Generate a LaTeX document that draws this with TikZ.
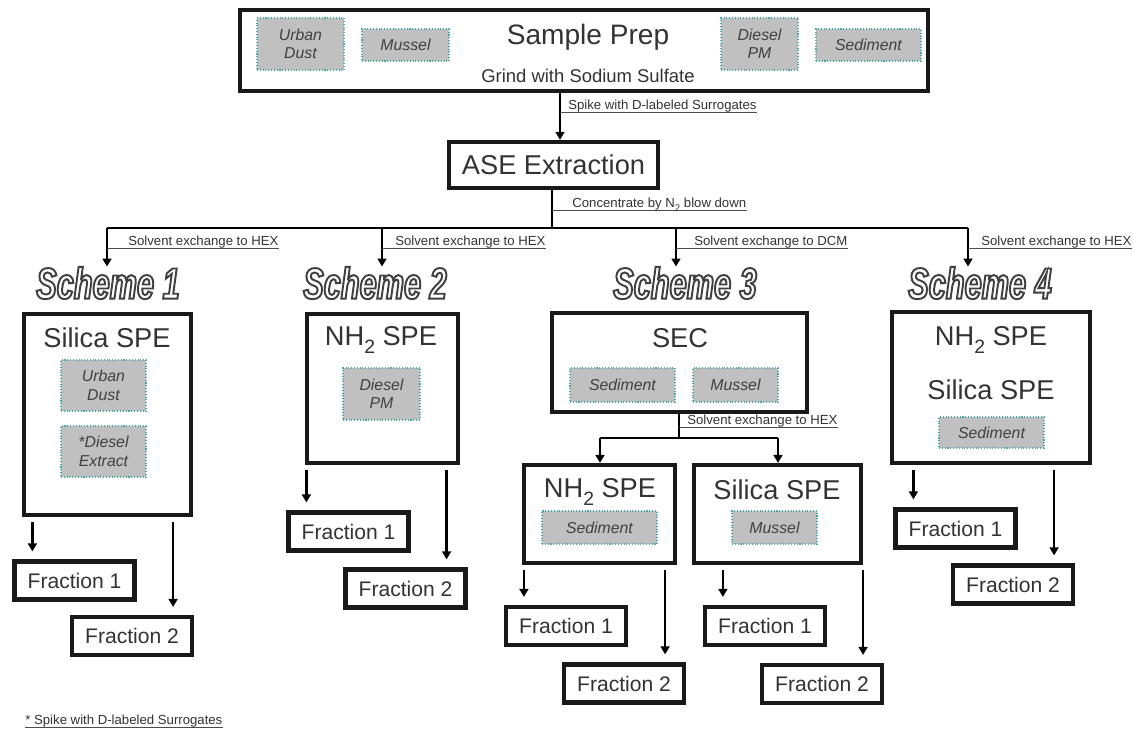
\documentclass[tikz,border=0pt]{standalone}
\usepackage{fontspec}
\setmainfont{Liberation Sans}
\newfontfamily\schemefont[FakeStretch=0.7]{Liberation Sans}
\usetikzlibrary{arrows.meta}

\definecolor{txt}{HTML}{333333}
\definecolor{sampfill}{HTML}{C0C0C0}
\definecolor{sampline}{HTML}{4AA8A8}

\newcommand\nhtwo{NH\raisebox{-0.3em}{\fontsize{11}{11}\selectfont 2}}
\newcommand\schemelabel[1]{{\color{white}\special{pdf:literal direct 0.25 G 1.1 w 2 Tr}#1\special{pdf:literal direct 0 Tr}}}

\tikzset{
	bigbox/.style={draw=black!90, line width=2.4pt, fill=white, inner sep=0},
	fracbox/.style={bigbox, minimum width=2.4cm, minimum height=0.76cm, text=txt, font=\fontsize{12}{14}\selectfont},
	samp/.style={draw=sampline, densely dotted, line width=0.6pt, fill=sampfill, text=black!75, align=center, inner sep=0, font=\fontsize{9}{10.5}\selectfont\itshape},
	head/.style={text=txt, inner sep=0, font=\fontsize{15.5}{18}\selectfont},
	note/.style={text=black!80, inner xsep=0, inner ysep=1pt, text depth=0pt, font=\fontsize{7.5}{8}\selectfont},
	uline/.style={draw=black!70, line width=0.5pt},
	link/.style={line width=1.4pt},
	arr/.style={link, -{Triangle[length=4.5pt, width=5pt]}},
	farr/.style={arr, shorten <=0.1cm, shorten >=0.16cm},
	scheme/.style={inner sep=0, font={\schemefont\fontsize{25}{27}\selectfont\bfseries\itshape}}
}

\begin{document}
\begin{tikzpicture}[x=0.02cm, y=-0.02cm]
	\useasboundingbox (0,0) rectangle (1134,737);

	% sample preparation
	\node[bigbox, minimum width=13.76cm, minimum height=1.62cm] (prep) at (584,50.5) {};
	\node[samp, minimum width=1.74cm, minimum height=1.04cm] (prepurb) at (300.5,44) {Urban\\Dust};
	\node[samp, minimum width=1.74cm, minimum height=0.64cm] (prepmus) at (405.5,45) {Mussel};
	\node[samp, minimum width=1.54cm, minimum height=1.04cm] (prepdsl) at (759.5,44) {Diesel\\PM};
	\node[samp, minimum width=2.1cm, minimum height=0.64cm] (prepsed) at (868.5,45) {Sediment};
	\node[head, font=\fontsize{16}{18}\selectfont] (preptitle) at (588,37) {Sample Prep};
	\node[text=txt, inner sep=0, font=\fontsize{10.5}{12}\selectfont] (grind) at (588,76) {Grind with Sodium Sulfate};

	% extraction
	\node[bigbox, head, minimum width=4.18cm, minimum height=0.92cm] (ase) at (553.5,165) {ASE Extraction};
	\coordinate (spikeat) at (560,112);
	\draw[arr] (prep.south -| spikeat) -- (ase.north -| spikeat);
	\node[note, anchor=south west] (spike) at ([xshift=0.16cm]spikeat) {Spike with D-labeled Surrogates};
	\draw[uline] (spikeat) -- (spike.south east);

	\coordinate (bus) at (552,228);
	\coordinate (concat) at (552,210);
	\draw[link] (ase.south -| bus) -- (bus);
	\node[note, anchor=south west] (conc) at ([xshift=0.4cm]concat) {Concentrate by N\raisebox{-0.25em}{\fontsize{5.5}{6}\selectfont 2} blow down};
	\draw[uline] (concat) -- (conc.south east);

	% schemes
	\node[scheme] (s1) at (108,283) {\schemelabel{Scheme 1}};
	\node[scheme] (s2) at (375,283) {\schemelabel{Scheme 2}};
	\node[scheme] (s3) at (685,283) {\schemelabel{Scheme 3}};
	\node[scheme] (s4) at (980,283) {\schemelabel{Scheme 4}};

	\coordinate (b1) at (107,228);
	\coordinate (b2) at (382,228);
	\coordinate (b3) at (676,228);
	\coordinate (b4) at (968,228);
	\draw[link] (b1) -- (b4);
	\foreach \i/\gap/\solv in {1/0.42/HEX, 2/0.26/HEX, 3/0.36/DCM, 4/0.26/HEX}
	{
		\draw[arr] (b\i) -- (b\i |- s\i.north);
		\coordinate (l\i) at ([yshift=-0.4cm]b\i);
		\node[note, anchor=south west] (n\i) at ([xshift=\gap cm]l\i) {Solvent exchange to \solv};
		\draw[uline] (l\i) -- (n\i.south east);
	}

	% scheme 1
	\node[bigbox, minimum width=3.34cm, minimum height=4.02cm] (spe1) at (107.5,414.5) {};
	\node[head] (spe1t) at (107,338) {Silica SPE};
	\node[samp, minimum width=1.7cm, minimum height=1.02cm] (urb1) at (103.5,385.5) {Urban\\Dust};
	\node[samp, minimum width=1.7cm, minimum height=1.02cm] (dex1) at (103.5,451.5) {*Diesel\\Extract};

	% scheme 2
	\node[bigbox, minimum width=3.02cm, minimum height=2.98cm] (nh2) at (382.5,388.5) {};
	\node[head] (nh2t) at (381,340) {\nhtwo{} SPE};
	\node[samp, minimum width=1.54cm, minimum height=1.04cm] (dsl2) at (381.5,394) {Diesel\\PM};

	% scheme 3
	\node[bigbox, minimum width=5.1cm, minimum height=1.98cm] (sec) at (679.5,362.5) {};
	\node[head] (sect) at (680,338) {SEC};
	\node[samp, minimum width=2.1cm, minimum height=0.68cm] (sed3) at (622.5,385) {Sediment};
	\node[samp, minimum width=1.7cm, minimum height=0.68cm] (mus3) at (735.5,385) {Mussel};

	\node[bigbox, minimum width=3.02cm, minimum height=1.96cm] (nh3) at (599.5,514) {};
	\node[head] (nh3t) at (600,492) {\nhtwo{} SPE};
	\node[samp, minimum width=2.3cm, minimum height=0.66cm] (sed3a) at (599.5,527.5) {Sediment};
	\node[bigbox, minimum width=3.34cm, minimum height=1.96cm] (sil3) at (777.5,514) {};
	\node[head] (sil3t) at (777,490) {Silica SPE};
	\node[samp, minimum width=1.7cm, minimum height=0.66cm] (mus3b) at (774.5,527.5) {Mussel};

	\coordinate (secbus) at (679,438);
	\coordinate (secat) at (679,427);
	\coordinate (c3a) at (600,438);
	\coordinate (c3b) at (778,438);
	\draw[link] (sec.south -| secbus) -- (secbus);
	\draw[link] (c3a) -- (c3b);
	\draw[arr] (c3a) -- (c3a |- nh3.north);
	\draw[arr] (c3b) -- (c3b |- sil3.north);
	\node[note, anchor=south west] (sechex) at ([xshift=0.16cm]secat) {Solvent exchange to HEX};
	\draw[uline] (secat) -- (sechex.south east);

	% scheme 4
	\node[bigbox, minimum width=3.96cm, minimum height=3.02cm] (spe4) at (991,387.5) {};
	\node[head] (spe4t) at (991,340) {\nhtwo{} SPE};
	\node[head] (spe4u) at (991,390) {Silica SPE};
	\node[samp, minimum width=2.1cm, minimum height=0.62cm] (sed4) at (991.5,432.5) {Sediment};

	% fractions
	\node[fracbox] (f11) at (74.5,580.5) {Fraction 1};
	\node[fracbox] (f12) at (132,636) {Fraction 2};
	\node[fracbox] (f21) at (348.5,531.5) {Fraction 1};
	\node[fracbox] (f22) at (405.5,588.5) {Fraction 2};
	\node[fracbox] (f3a1) at (566,626) {Fraction 1};
	\node[fracbox] (f3a2) at (624,683.5) {Fraction 2};
	\node[fracbox] (f3b1) at (765,626) {Fraction 1};
	\node[fracbox] (f3b2) at (822,684) {Fraction 2};
	\node[fracbox] (f41) at (955.5,528.5) {Fraction 1};
	\node[fracbox] (f42) at (1013,584.5) {Fraction 2};

	\foreach \src/\fa/\fb in {spe1/f11/f12, nh2/f21/f22, nh3/f3a1/f3a2, sil3/f3b1/f3b2, spe4/f41/f42}
	{
		\coordinate (ta) at ([xshift=0.4cm]\fa.north west);
		\coordinate (tb) at ([xshift=-0.42cm]\fb.north east);
		\draw[farr] (\src.south -| ta) -- (ta);
		\draw[farr] (\src.south -| tb) -- (tb);
	}

	\node[note, anchor=south west] (foot) at (25,727) {* Spike with D-labeled Surrogates};
	\draw[uline] (foot.south west) -- (foot.south east);
\end{tikzpicture}
\end{document}
